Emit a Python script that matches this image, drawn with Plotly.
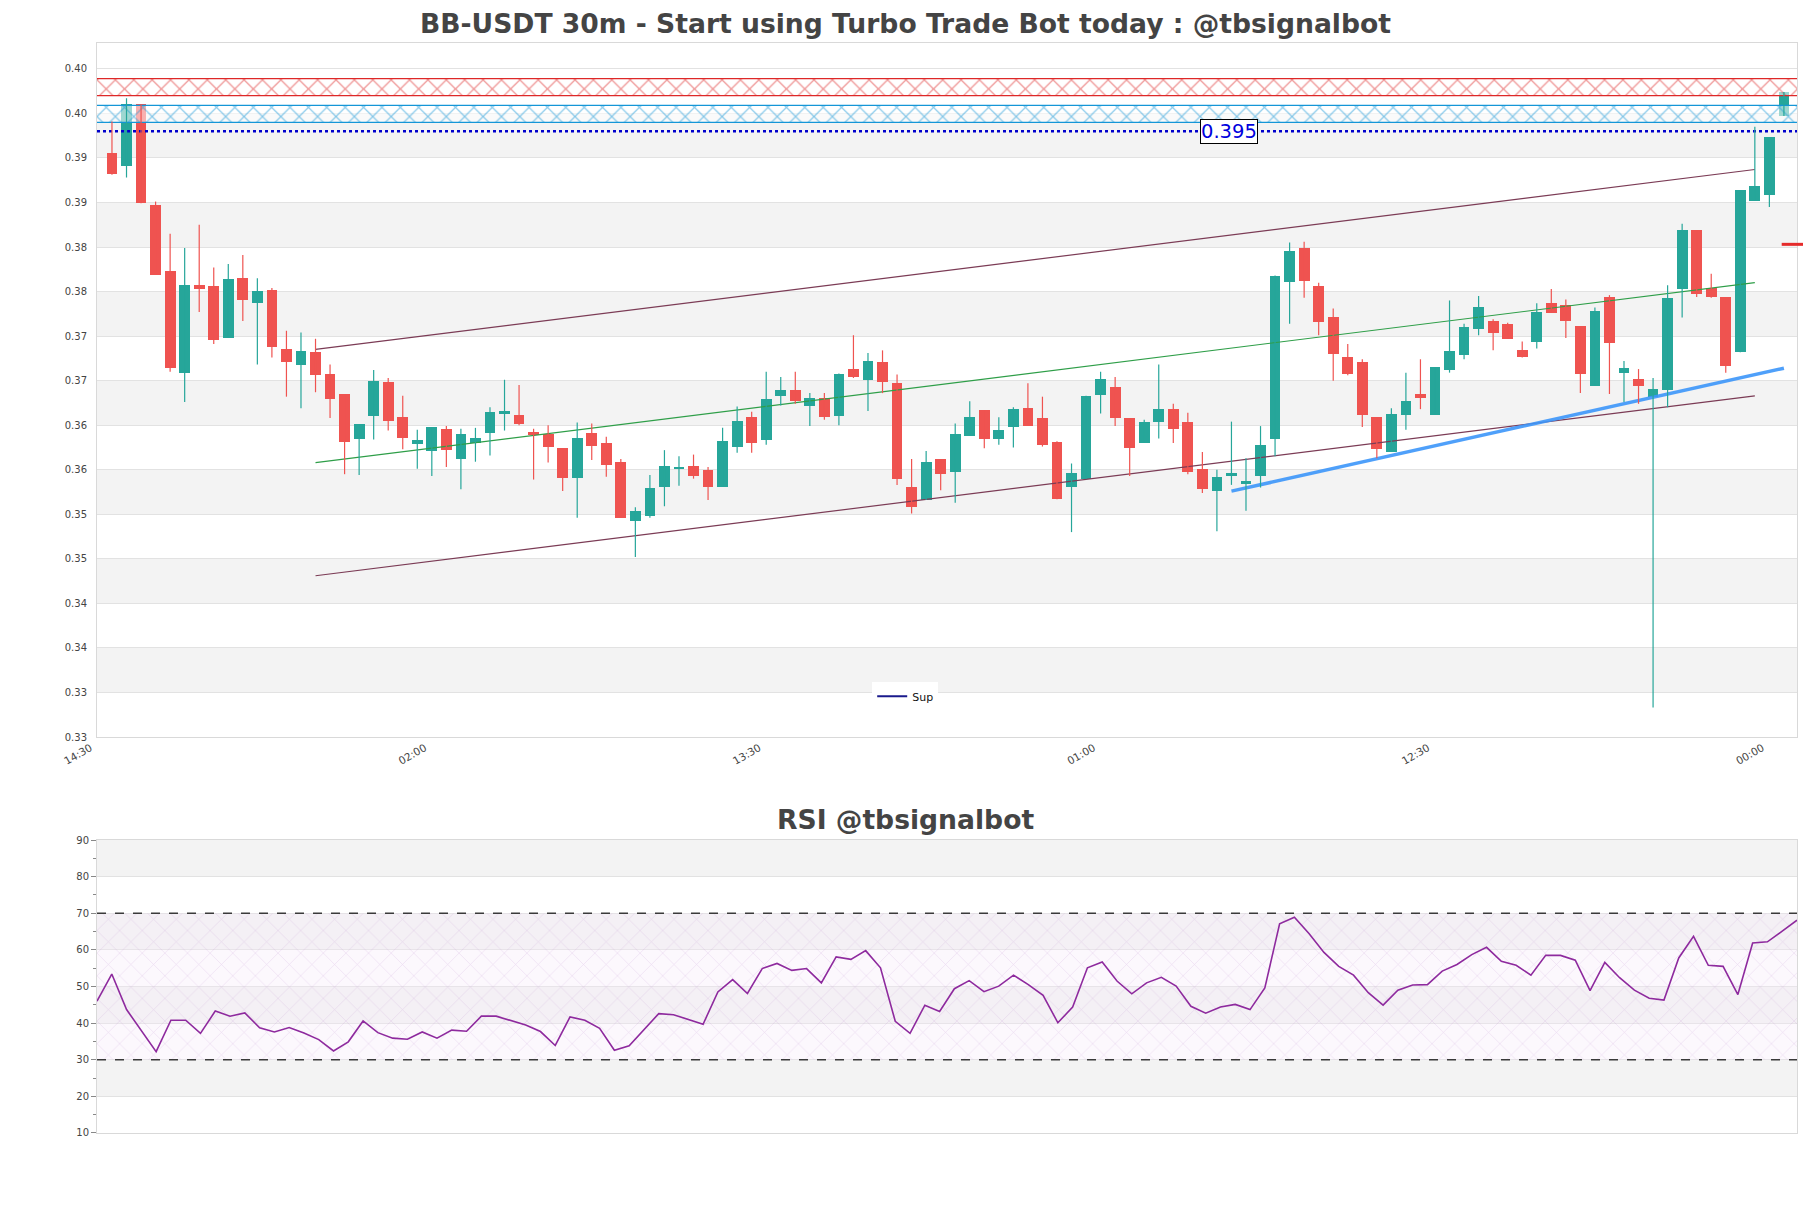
import plotly.graph_objects as go

# ---------------- data ----------------
idx = list(range(116))
opens = [0.3928,0.3913,0.3982,0.3869,0.3795,0.3681,0.3779,0.3778,0.3720,0.3787,
         0.3759,0.3774,0.3707,0.3690,0.3704,0.3679,0.3657,0.3607,0.3632,0.3671,
         0.3631,0.3601,0.3593,0.3618,0.3584,0.3602,0.3613,0.3635,0.3633,0.3614,
         0.3612,0.3596,0.3563,0.3613,0.3602,0.3581,0.3514,0.3520,0.3553,0.3573,
         0.3576,0.3572,0.3553,0.3597,0.3631,0.3605,0.3655,0.3662,0.3644,0.3653,
         0.3632,0.3685,0.3673,0.3693,0.3669,0.3553,0.3538,0.3584,0.3570,0.3610,
         0.3639,0.3606,0.3620,0.3641,0.3630,0.3603,0.3553,0.3562,0.3656,0.3665,
         0.3630,0.3602,0.3626,0.3640,0.3626,0.3573,0.3548,0.3566,0.3556,0.3565,
         0.3606,0.3783,0.3821,0.3778,0.3743,0.3698,0.3693,0.3631,0.3592,0.3634,
         0.3657,0.3634,0.3684,0.3701,0.3730,0.3739,0.3736,0.3706,0.3715,0.3759,
         0.3757,0.3733,0.3666,0.3766,0.3681,0.3674,0.3654,0.3662,0.3775,0.3841,
         0.3776,0.3766,0.3704,0.3874,0.3880,0.3969]
highs = [0.3963,0.3989,0.3982,0.3873,0.3837,0.3821,0.3847,0.3799,0.3803,0.3813,
         0.3787,0.3776,0.3728,0.3726,0.3719,0.3690,0.3657,0.3623,0.3684,0.3675,
         0.3655,0.3617,0.3620,0.3621,0.3618,0.3619,0.3642,0.3673,0.3667,0.3618,
         0.3622,0.3596,0.3625,0.3624,0.3609,0.3584,0.3530,0.3566,0.3594,0.3587,
         0.3589,0.3575,0.3619,0.3643,0.3637,0.3682,0.3676,0.3682,0.3658,0.3658,
         0.3680,0.3723,0.3703,0.3706,0.3679,0.3584,0.3593,0.3584,0.3624,0.3649,
         0.3639,0.3631,0.3642,0.3669,0.3654,0.3604,0.3579,0.3655,0.3682,0.3676,
         0.3630,0.3628,0.3690,0.3646,0.3636,0.3592,0.3572,0.3626,0.3585,0.3621,
         0.3790,0.3827,0.3828,0.3782,0.3753,0.3713,0.3696,0.3631,0.3641,0.3681,
         0.3696,0.3687,0.3762,0.3736,0.3767,0.3741,0.3737,0.3716,0.3759,0.3775,
         0.3763,0.3733,0.3754,0.3768,0.3694,0.3685,0.3675,0.3779,0.3848,0.3841,
         0.3792,0.3766,0.3886,0.3957,0.3945,0.3996]
lows = [0.3903,0.3900,0.3871,0.3791,0.3682,0.3648,0.3749,0.3713,0.3720,0.3739,
        0.3690,0.3698,0.3654,0.3641,0.3659,0.3630,0.3567,0.3566,0.3606,0.3616,
        0.3595,0.3573,0.3565,0.3575,0.3550,0.3581,0.3588,0.3616,0.3622,0.3561,
        0.3580,0.3548,0.3518,0.3583,0.3564,0.3518,0.3474,0.3518,0.3531,0.3554,
        0.3562,0.3538,0.3553,0.3591,0.3591,0.3600,0.3644,0.3646,0.3621,0.3628,
        0.3622,0.3675,0.3638,0.3658,0.3555,0.3523,0.3538,0.3549,0.3535,0.3610,
        0.3596,0.3600,0.3597,0.3621,0.3598,0.3539,0.3502,0.3562,0.3635,0.3621,
        0.3565,0.3602,0.3607,0.3602,0.3567,0.3546,0.3503,0.3555,0.3526,0.3552,
        0.3587,0.3736,0.3765,0.3723,0.3672,0.3678,0.3620,0.3585,0.3592,0.3617,
        0.3640,0.3634,0.3681,0.3696,0.3723,0.3706,0.3719,0.3698,0.3708,0.3748,
        0.3720,0.3658,0.3666,0.3657,0.3648,0.3646,0.3305,0.3642,0.3743,0.3766,
        0.3765,0.3681,0.3704,0.3874,0.3867,0.3969]
closes = [0.3904,0.3983,0.3871,0.3791,0.3686,0.3779,0.3775,0.3718,0.3786,0.3763,
          0.3773,0.3710,0.3693,0.3705,0.3678,0.3651,0.3603,0.3623,0.3672,0.3627,
          0.3608,0.3605,0.3620,0.3594,0.3612,0.3608,0.3637,0.3638,0.3623,0.3612,
          0.3598,0.3563,0.3608,0.3599,0.3577,0.3518,0.3526,0.3552,0.3576,0.3574,
          0.3565,0.3553,0.3604,0.3627,0.3602,0.3651,0.3661,0.3649,0.3653,0.3631,
          0.3679,0.3676,0.3694,0.3670,0.3562,0.3530,0.3581,0.3567,0.3612,0.3631,
          0.3607,0.3617,0.3640,0.3621,0.3600,0.3539,0.3568,0.3655,0.3674,0.3630,
          0.3596,0.3626,0.3640,0.3618,0.3570,0.3550,0.3564,0.3568,0.3559,0.3600,
          0.3790,0.3817,0.3784,0.3738,0.3702,0.3679,0.3634,0.3595,0.3635,0.3649,
          0.3653,0.3687,0.3705,0.3732,0.3755,0.3726,0.3719,0.3698,0.3749,0.3748,
          0.3739,0.3680,0.3750,0.3714,0.3686,0.3666,0.3663,0.3765,0.3841,0.3769,
          0.3766,0.3689,0.3886,0.3891,0.3945,0.3996]

rsi_idx = list(range(116))
rsi = [46.0,53.4,43.7,38.0,32.2,40.8,40.8,37.2,43.3,41.9,
       42.8,38.7,37.6,38.8,37.3,35.5,32.4,34.9,40.6,37.4,
       35.9,35.6,37.6,35.9,38.1,37.8,41.9,41.9,40.6,39.5,
       37.7,33.9,41.7,40.8,38.6,32.6,33.8,38.3,42.6,42.3,
       41.1,39.7,48.5,51.9,48.1,54.9,56.3,54.4,54.9,51.0,
       58.1,57.4,59.8,55.1,40.5,37.2,44.9,43.2,49.4,51.6,
       48.6,50.1,53.1,50.5,47.6,40.1,44.4,55.1,56.7,51.5,
       48.0,51.0,52.5,50.1,44.6,42.7,44.4,45.1,43.7,49.6,
       67.1,68.9,64.4,59.3,55.5,53.1,48.3,44.9,49.0,50.4,
       50.5,54.2,56.0,58.7,60.7,56.9,55.8,53.1,58.5,58.5,
       57.2,48.9,56.6,52.4,49.0,46.8,46.3,57.8,63.7,55.8,
       55.5,47.8,61.9,62.2,65.1,68.1]

# tick labels
price_ticks = [0.3272,0.3322,0.3372,0.3422,0.3472,0.3522,0.3572,0.3622,
               0.3672,0.3722,0.3772,0.3822,0.3872,0.3922,0.3972,0.4022]
time_tick_idx = [-1, 22, 45, 68, 91, 114]
time_tick_text = ["14:30", "02:00", "13:30", "01:00", "12:30", "00:00"]
rsi_ticks = [10, 20, 30, 40, 50, 60, 70, 80, 90]

# zones / levels / trend lines
red_zone = [0.3992, 0.4011]
blue_zone = [0.3962, 0.3981]
sup_level = 0.3952
sup_label = "0.395"
marker_level = 0.3825
channel_x = [14, 113]
channel_upper = [0.3707, 0.3909]
channel_lower = [0.3453, 0.3655]
channel_mid = [0.3580, 0.3782]
trend_x = [77, 115]
trend_y = [0.3548, 0.3686]

X_RANGE = [-1.03, 115.9]
Y_RANGE = [0.3272, 0.4051]

UP = "#26a69a"
DOWN = "#ef5350"
FONT = "DejaVu Sans"

fig = go.Figure()

# zones (hatched fill + top/bottom border lines)
for zone, col in [(red_zone, "rgb(222,40,40)"), (blue_zone, "rgb(20,150,215)")]:
    fig.add_trace(go.Scatter(
        x=[X_RANGE[0], X_RANGE[1], X_RANGE[1], X_RANGE[0], X_RANGE[0]],
        y=[zone[0], zone[0], zone[1], zone[1], zone[0]],
        mode="lines", line=dict(width=0), fill="toself",
        fillcolor="rgba(255,255,255,0)",
        fillpattern=dict(shape="x", fgcolor=col, bgcolor="rgba(255,255,255,0.55)",
                         size=13, solidity=0.18),
        showlegend=False, hoverinfo="skip", xaxis="x", yaxis="y"))
    for edge in zone:
        fig.add_trace(go.Scatter(x=X_RANGE, y=[edge, edge], mode="lines",
                                 line=dict(color=col, width=1.3),
                                 showlegend=False, hoverinfo="skip", xaxis="x", yaxis="y"))

# support dotted line
fig.add_trace(go.Scatter(x=X_RANGE, y=[sup_level, sup_level], mode="lines",
                         line=dict(color="#0000cc", width=2.5, dash="dot"),
                         showlegend=False, hoverinfo="skip", xaxis="x", yaxis="y"))
fig.add_trace(go.Scatter(x=[None], y=[None], mode="lines", name="Sup",
                         line=dict(color="#1a1a8c", width=2), xaxis="x", yaxis="y"))

# channel lines
for ys, col, w in [(channel_upper, "#7b3b55", 1.2), (channel_lower, "#7b3b55", 1.2),
                   (channel_mid, "#2e9e48", 1.2)]:
    fig.add_trace(go.Scatter(x=channel_x, y=ys, mode="lines", line=dict(color=col, width=w),
                             showlegend=False, hoverinfo="skip", xaxis="x", yaxis="y"))
fig.add_trace(go.Scatter(x=trend_x, y=trend_y, mode="lines",
                         line=dict(color="rgba(60,150,250,0.9)", width=3.5),
                         showlegend=False, hoverinfo="skip", xaxis="x", yaxis="y"))

# wicks
for up in (True, False):
    wx, wy = [], []
    for i, o, h, l, c in zip(idx, opens, highs, lows, closes):
        if (c >= o) == up:
            wx += [i, i, None]
            wy += [l, h, None]
    fig.add_trace(go.Scatter(x=wx, y=wy, mode="lines",
                             line=dict(color=UP if up else DOWN, width=1.2),
                             showlegend=False, hoverinfo="skip", xaxis="x", yaxis="y"))

# bodies
body_base = [min(o, c) for o, c in zip(opens, closes)]
body_h = [max(abs(c - o), 0.00018) for o, c in zip(opens, closes)]
body_col = [UP if c >= o else DOWN for o, c in zip(opens, closes)]
fig.add_trace(go.Bar(x=idx, y=body_h, base=body_base, width=0.74,
                     marker=dict(color=body_col, line=dict(width=0)),
                     showlegend=False, hoverinfo="skip", xaxis="x", yaxis="y"))

# RSI hatch zone
fig.add_trace(go.Scatter(x=[0, 115, 115, 0, 0], y=[30, 30, 70, 70, 30], mode="lines",
                         line=dict(width=0), fill="toself",
                         fillcolor="rgba(255,255,255,0)",
                         fillpattern=dict(shape="x", fgcolor="rgba(185,130,205,0.55)",
                                          bgcolor="rgba(245,232,250,0.3)",
                                          size=16, solidity=0.07),
                         showlegend=False, hoverinfo="skip", xaxis="x2", yaxis="y2"))
fig.add_trace(go.Scatter(x=rsi_idx, y=rsi, mode="lines",
                         line=dict(color="#8e2a9e", width=1.6),
                         showlegend=False, hoverinfo="skip", xaxis="x2", yaxis="y2"))

shapes = []
# alternating bands, main chart
for k in range(1, len(price_ticks) - 1, 2):
    shapes.append(dict(type="rect", xref="x domain", yref="y", x0=0, x1=1,
                       y0=price_ticks[k], y1=price_ticks[k + 1],
                       fillcolor="#f3f3f3", line=dict(width=0), layer="below"))
# alternating bands, RSI
for k in range(1, len(rsi_ticks) - 1, 2):
    shapes.append(dict(type="rect", xref="x2 domain", yref="y2", x0=0, x1=1,
                       y0=rsi_ticks[k], y1=rsi_ticks[k + 1],
                       fillcolor="#f3f3f3", line=dict(width=0), layer="below"))
for lv in (30, 70):
    shapes.append(dict(type="line", xref="x2 domain", yref="y2", x0=0, x1=1, y0=lv, y1=lv,
                       line=dict(color="#3a3a3a", width=1.3, dash="dash")))
shapes.append(dict(type="line", xref="x domain", yref="y", x0=0.991, x1=1.006,
                   y0=marker_level, y1=marker_level, line=dict(color="#e52b2b", width=3)))

TITLE_X = 0.4756  # page centre expressed in plot-area coordinates
annotations = [
    dict(text="<b>BB-USDT 30m - Start using Turbo Trade Bot today : @tbsignalbot</b>",
         xref="paper", yref="paper", x=TITLE_X, y=1.0183, xanchor="center", yanchor="middle",
         showarrow=False, font=dict(family=FONT, size=26.6, color="#444444")),
    dict(text="<b>RSI @tbsignalbot</b>", xref="paper", yref="paper", x=TITLE_X, y=0.2872,
         xanchor="center", yanchor="middle", showarrow=False,
         font=dict(family=FONT, size=26.6, color="#444444")),
    dict(text=sup_label, x=76.86, y=sup_level, xref="x", yref="y", showarrow=False,
         font=dict(family=FONT, size=19.5, color="#0000dd"), bgcolor="white",
         bordercolor="black", borderwidth=1, borderpad=0),
]

axis_common = dict(showline=True, linecolor="#d9d9d9", mirror=True, zeroline=False)

# page body has an 8px margin: shrink figure and margins to land on the same pixels
fig.update_layout(
    width=1795, height=1192,
    margin=dict(l=89, r=6, t=35, b=67),
    paper_bgcolor="white", plot_bgcolor="white",
    font=dict(family=FONT, size=10, color="#444444"),
    barmode="overlay", bargap=0,
    shapes=shapes, annotations=annotations,
    showlegend=True,
    legend=dict(x=0.456, y=0.414, xanchor="left", yanchor="top", bgcolor="white",
                font=dict(family=FONT, size=11, color="#111111"), itemwidth=30,
                borderwidth=0),
    xaxis=dict(domain=[0, 1], anchor="y", range=X_RANGE, tickmode="array",
               tickvals=time_tick_idx, ticktext=time_tick_text, tickangle=-30,
               showgrid=False, ticks="", ticklabelshift=-7, ticklabelstandoff=0,
               tickfont=dict(size=10.5, color="#444444"), **axis_common),
    yaxis=dict(domain=[0.3633, 1], anchor="x", range=Y_RANGE, tickmode="array",
               tickvals=price_ticks, tickformat=".2f", showgrid=True,
               gridcolor="#e2e2e2", gridwidth=1,
               ticks="outside", ticklen=7, tickcolor="rgba(0,0,0,0)",
               tickfont=dict(size=10, color="#444444"), **axis_common),
    xaxis2=dict(domain=[0, 1], anchor="y2", range=[0, 115], showticklabels=False,
                showgrid=False, ticks="", **axis_common),
    yaxis2=dict(domain=[0, 0.2688], anchor="x2", range=[10, 90], tickmode="array",
                tickvals=rsi_ticks, showgrid=True, gridcolor="#e2e2e2",
                ticks="outside", ticklen=5, tickcolor="#888888",
                minor=dict(dtick=5, ticks="outside", ticklen=3, tickcolor="#888888",
                           showgrid=False),
                tickfont=dict(size=10, color="#444444"), **axis_common),
)

fig.write_html("out.html")
